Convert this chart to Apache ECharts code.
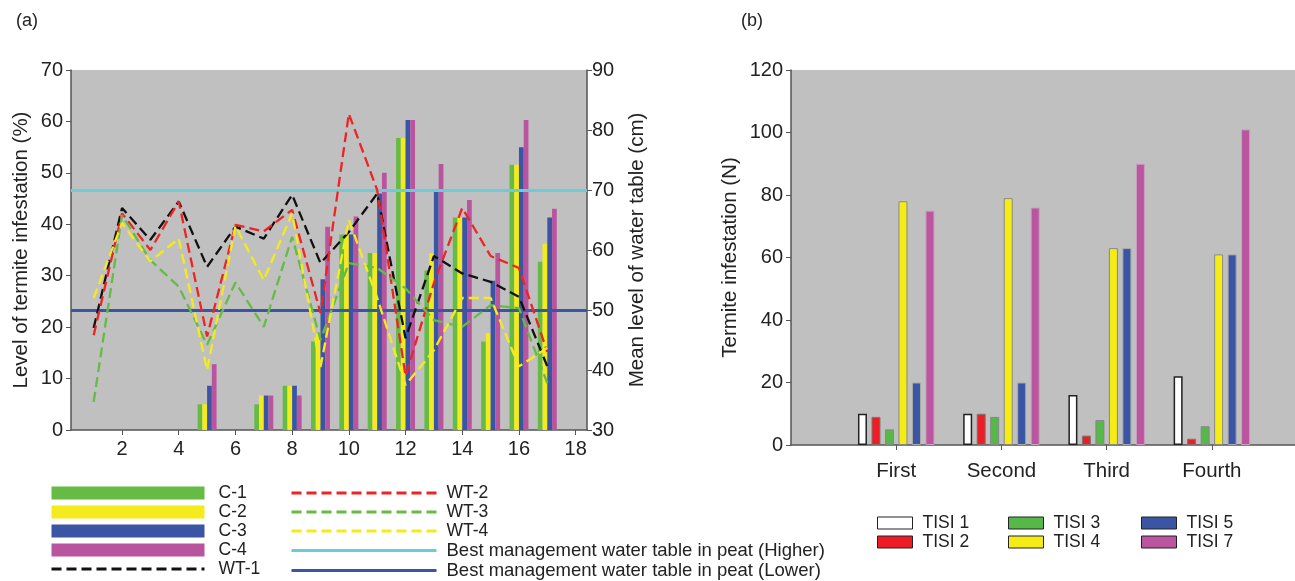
<!DOCTYPE html>
<html>
<head>
<meta charset="utf-8">
<script src="https://cdn.jsdelivr.net/npm/echarts@6/dist/echarts.min.js"></script>
<style>
html, body { margin: 0; padding: 0; background: #fff; }
#chart { width: 1295px; height: 581px; }
</style>
</head>
<body>
<div id="chart"></div>
<script>
// panel (a): infestation bars + water table lines
var weeks = [1, 2, 3, 4, 5, 6, 7, 8, 9, 10, 11, 12, 13, 14, 15, 16, 17];
var barWeeks = [5, 7, 8, 9, 10, 11, 12, 13, 14, 15, 16, 17];
var c1 = [5, 5, 8.6, 17.2, 38, 34.4, 56.8, 31, 41.3, 17.2, 51.6, 32.7];
var c2 = [5, 6.7, 8.6, 18.8, 38, 34.4, 56.8, 34.3, 41.3, 18.8, 51.6, 36.2];
var c3 = [8.6, 6.7, 8.6, 29.3, 38, 46, 60.3, 46.5, 41.3, 29, 55, 41.3];
var c4 = [12.8, 6.7, 6.7, 39.5, 41.5, 50, 60.3, 51.7, 44.7, 34.4, 60.3, 43];
var wt1 = [47, 67, 61.7, 68.1, 57.2, 63.9, 61.9, 69.2, 57.8, 63, 69.4, 45.3, 59, 56.1, 54.7, 52.2, 40.6];
var wt2 = [45.8, 66.1, 60, 68.1, 45.6, 64.2, 63.1, 66.7, 49.5, 82.7, 70, 39, 54.5, 67, 59, 57, 43];
var wt3 = [34.7, 65.8, 58.3, 53.9, 44.2, 54.6, 47.2, 62.2, 45, 57.8, 57, 53.6, 48.3, 47.2, 50.8, 50.3, 37.8];
var wt4 = [52, 64.5, 58.1, 61.9, 40, 64, 55, 66.1, 40.5, 65, 52, 37.5, 43.3, 52, 52, 40.6, 43.7];
var waterHigher = 70;
var waterLower = 50;
var xTicksA = [2, 4, 6, 8, 10, 12, 14, 16, 18];

// panel (b): termite counts per round
var rounds = ['First', 'Second', 'Third', 'Fourth'];
var roundPos = [1, 2, 3, 4];
var tisi1 = [10, 10, 16, 22];
var tisi2 = [9, 10, 3, 2];
var tisi3 = [5, 9, 8, 6];
var tisi4 = [78, 79, 63, 61];
var tisi5 = [20, 20, 63, 61];
var tisi7 = [75, 76, 90, 101];

var font = "'Liberation Sans', Arial, sans-serif";
var axisColor = '#555';

function pairs(xs, ys) {
    return xs.map(function (x, i) { return [x, ys[i]]; });
}

function barA(name, color, vals) {
    return {
        name: name, type: 'bar', xAxisIndex: 0, yAxisIndex: 0,
        barWidth: 4.75, barGap: '0%',
        itemStyle: { color: color },
        data: pairs(barWeeks, vals)
    };
}

function lineA(name, color, vals) {
    return {
        name: name, type: 'line', xAxisIndex: 0, yAxisIndex: 1,
        symbol: 'none', z: 5,
        lineStyle: { color: color, width: 2.3, type: [10, 5] },
        itemStyle: { color: color },
        data: pairs(weeks, vals)
    };
}

function flatA(name, color, val) {
    return {
        name: name, type: 'line', xAxisIndex: 0, yAxisIndex: 1,
        symbol: 'none', z: 4, data: [],
        lineStyle: { color: color, width: 3.5 },
        itemStyle: { color: color },
        markLine: {
            silent: true, symbol: 'none', label: { show: false },
            lineStyle: { color: color, width: 3, type: 'solid' },
            data: [{ yAxis: val }]
        }
    };
}

function barB(name, color, border, bw, vals) {
    return {
        name: name, type: 'bar', xAxisIndex: 1, yAxisIndex: 2,
        barWidth: 9, barGap: '50%',
        itemStyle: { color: color, borderColor: border, borderWidth: bw },
        data: pairs(roundPos, vals)
    };
}

var hideDot = { opacity: 0 };
var longText = { fontSize: 18.5, lineHeight: 17 };

var myChart = echarts.init(document.getElementById('chart'));
myChart.setOption({
    animation: false,
    textStyle: { fontFamily: font },
    title: [
        { text: '(a)', left: 11, top: 7, textStyle: { fontSize: 18, fontWeight: 'normal', color: '#222', fontFamily: font } },
        { text: '(b)', left: 736, top: 7, textStyle: { fontSize: 18, fontWeight: 'normal', color: '#222', fontFamily: font } }
    ],
    grid: [
        { left: 71, right: 708, top: 70, bottom: 151, show: true, backgroundColor: '#c0c0c0', borderWidth: 0 },
        { left: 791, right: 0, top: 70, bottom: 136, show: true, backgroundColor: '#c0c0c0', borderWidth: 0 }
    ],
    legend: [
        {
            left: 50, top: 484, padding: 0, orient: 'vertical', itemWidth: 153, itemHeight: 13, itemGap: 1,
            lineStyle: { width: 3 },
            textStyle: { fontSize: 17.5, lineHeight: 17, color: '#222', padding: [0, 0, 0, 9] },
            data: [
                { name: 'C-1', icon: 'rect' }, { name: 'C-2', icon: 'rect' },
                { name: 'C-3', icon: 'rect' }, { name: 'C-4', icon: 'rect' },
                { name: 'WT-1', itemStyle: hideDot }
            ]
        },
        {
            left: 290, top: 484, padding: 0, orient: 'vertical', itemWidth: 145, itemHeight: 13, itemGap: 1,
            itemStyle: hideDot,
            lineStyle: { width: 3 },
            textStyle: { fontSize: 17.5, lineHeight: 17, color: '#222', padding: [0, 0, 0, 5] },
            data: ['WT-2', 'WT-3', 'WT-4',
                { name: 'Best management water table in peat (Higher)', textStyle: longText },
                { name: 'Best management water table in peat (Lower)', textStyle: longText }]
        },
        {
            left: 877, top: 514, padding: 0, orient: 'vertical', itemWidth: 35, itemHeight: 12, itemGap: 1, icon: 'rect',
            itemStyle: { borderColor: '#222', borderWidth: 1 },
            textStyle: { fontSize: 17.5, lineHeight: 17, color: '#222', padding: [0, 0, 0, 5] },
            data: ['TISI 1', 'TISI 2']
        },
        {
            left: 1008, top: 514, padding: 0, orient: 'vertical', itemWidth: 35, itemHeight: 12, itemGap: 1, icon: 'rect',
            itemStyle: { borderColor: '#222', borderWidth: 1 },
            textStyle: { fontSize: 17.5, lineHeight: 17, color: '#222', padding: [0, 0, 0, 5] },
            data: ['TISI 3', 'TISI 4']
        },
        {
            left: 1141, top: 514, padding: 0, orient: 'vertical', itemWidth: 35, itemHeight: 12, itemGap: 1, icon: 'rect',
            itemStyle: { borderColor: '#222', borderWidth: 1 },
            textStyle: { fontSize: 17.5, lineHeight: 17, color: '#222', padding: [0, 0, 0, 5] },
            data: ['TISI 5', 'TISI 7']
        }
    ],
    xAxis: [
        {
            gridIndex: 0, type: 'value', min: 0.2, max: 18.4,
            splitLine: { show: false },
            axisLine: { lineStyle: { color: axisColor, width: 1.5 } },
            axisTick: { customValues: xTicksA, length: 5, lineStyle: { color: axisColor } },
            axisLabel: { customValues: xTicksA, fontSize: 20, color: '#222', margin: 9 }
        },
        {
            gridIndex: 1, type: 'value', min: 0, max: 4.79,
            splitLine: { show: false },
            axisLine: { lineStyle: { color: axisColor, width: 1.5 } },
            axisTick: { customValues: roundPos, length: 5, lineStyle: { color: axisColor } },
            axisLabel: {
                customValues: roundPos, fontSize: 20.5, color: '#222', margin: 16,
                formatter: function (v) { return rounds[Math.round(v) - 1]; }
            }
        }
    ],
    yAxis: [
        {
            gridIndex: 0, type: 'value', min: 0, max: 70, interval: 10,
            name: 'Level of termite infestation (%)', nameLocation: 'middle', nameGap: 39,
            nameTextStyle: { fontSize: 20.5, color: '#222' },
            splitLine: { show: false },
            axisLine: { show: true, lineStyle: { color: axisColor, width: 1.5 } },
            axisTick: { show: true, length: 5, lineStyle: { color: axisColor } },
            axisLabel: { fontSize: 20, color: '#222', margin: 8 }
        },
        {
            gridIndex: 0, type: 'value', position: 'right', min: 30, max: 90, interval: 10,
            name: 'Mean level of water table (cm)', nameLocation: 'middle', nameGap: 40,
            nameTextStyle: { fontSize: 20.5, color: '#222' },
            splitLine: { show: false },
            axisLine: { show: true, lineStyle: { color: axisColor, width: 1.5 } },
            axisTick: { show: true, length: 5, lineStyle: { color: axisColor } },
            axisLabel: { fontSize: 20, color: '#222', margin: 5 }
        },
        {
            gridIndex: 1, type: 'value', min: 0, max: 120, interval: 20,
            name: 'Termite infestation (N)', nameLocation: 'middle', nameGap: 50,
            nameTextStyle: { fontSize: 20.5, color: '#222' },
            splitLine: { show: false },
            axisLine: { show: true, lineStyle: { color: axisColor, width: 1.5 } },
            axisTick: { show: true, length: 5, lineStyle: { color: axisColor } },
            axisLabel: { fontSize: 20, color: '#222', margin: 8 }
        }
    ],
    series: [
        barA('C-1', '#66bb44', c1),
        barA('C-2', '#f4eb1c', c2),
        barA('C-3', '#3a55a4', c3),
        barA('C-4', '#b9559f', c4),
        flatA('Best management water table in peat (Higher)', '#6ccbd9', waterHigher),
        flatA('Best management water table in peat (Lower)', '#3a55a4', waterLower),
        lineA('WT-1', '#111111', wt1),
        lineA('WT-2', '#ee2424', wt2),
        lineA('WT-3', '#66bb44', wt3),
        lineA('WT-4', '#f4eb1c', wt4),
        barB('TISI 1', '#ffffff', '#222', 1.5, tisi1),
        barB('TISI 2', '#ee1c24', '#777', 1, tisi2),
        barB('TISI 3', '#55b848', '#888', 1, tisi3),
        barB('TISI 4', '#f5ec16', '#888', 1, tisi4),
        barB('TISI 5', '#3a55a4', '#a8a8a8', 1, tisi5),
        barB('TISI 7', '#bb55a0', '#c6a0bc', 1, tisi7)
    ]
});
</script>
</body>
</html>
